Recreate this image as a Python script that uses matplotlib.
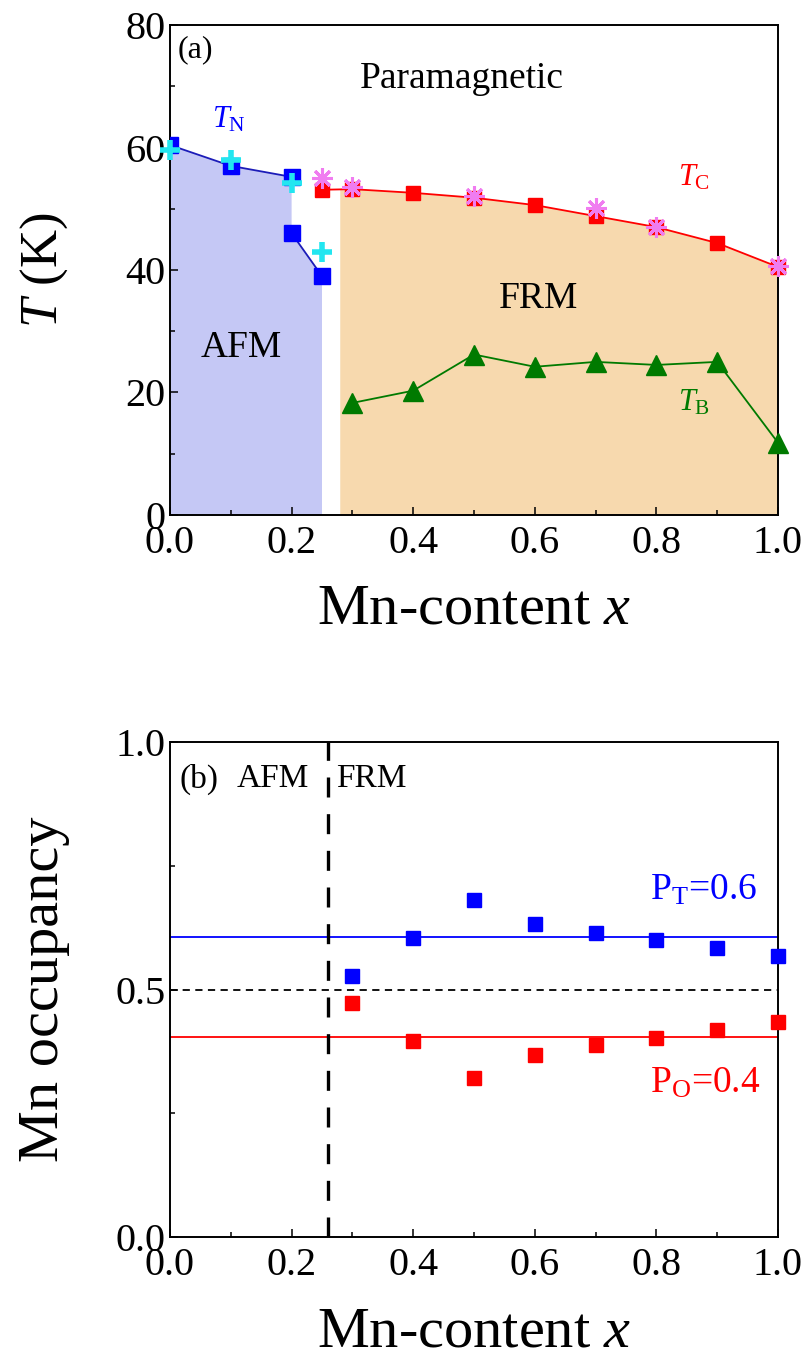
import matplotlib
matplotlib.use('Agg')
import matplotlib.pyplot as plt
from matplotlib.ticker import MultipleLocator
import numpy as np

plt.rcParams['font.family'] = ['Liberation Serif', 'DejaVu Serif']
plt.rcParams['mathtext.fontset'] = 'custom'
plt.rcParams['mathtext.rm'] = 'Liberation Serif'
plt.rcParams['mathtext.it'] = 'Liberation Serif:italic'
plt.rcParams['mathtext.bf'] = 'Liberation Serif:bold'

# ---------------- data ----------------
tn_x = [0.0, 0.1, 0.2, 0.2, 0.25]
tn_sq = [60.4, 57.0, 55.2, 46.0, 39.0]
tn_cross_x = [0.0, 0.1, 0.2, 0.25]
tn_cross = [59.6, 58.0, 54.2, 43.0]
tc_x = [0.25, 0.3, 0.4, 0.5, 0.6, 0.7, 0.8, 0.9, 1.0]
tc_sq = [53.1, 53.2, 52.6, 51.8, 50.6, 48.8, 47.0, 44.4, 40.5]
tc_ast_x = [0.25, 0.3, 0.5, 0.7, 0.8, 1.0]
tc_ast = [55.0, 53.5, 52.0, 50.1, 47.0, 40.6]
tb_x = [0.3, 0.4, 0.5, 0.6, 0.7, 0.8, 0.9, 1.0]
tb = [18.3, 20.3, 26.2, 24.2, 25.0, 24.5, 25.0, 11.8]

occ_x = [0.3, 0.4, 0.5, 0.6, 0.7, 0.8, 0.9, 1.0]
occ_T = [0.528, 0.604, 0.680, 0.633, 0.614, 0.600, 0.583, 0.567]
occ_O = [0.473, 0.396, 0.322, 0.368, 0.387, 0.402, 0.419, 0.434]
p_T = 0.607
p_O = 0.405
x_boundary = 0.26
afm_edge = 0.25
frm_edge = 0.28

xticks = [0.0, 0.2, 0.4, 0.6, 0.8, 1.0]
xticklabels = ['0.0', '0.2', '0.4', '0.6', '0.8', '1.0']
yticks_a = [0, 20, 40, 60, 80]
yticks_b = [0.0, 0.5, 1.0]
yticklabels_b = ['0.0', '0.5', '1.0']

# ---------------- figure ----------------
fig = plt.figure(figsize=(8.06, 13.62), dpi=100)
L, W = 170 / 806, 608 / 806
ax1 = fig.add_axes([L, 1 - 515 / 1362, W, 490 / 1362])
ax2 = fig.add_axes([L, 1 - 1237 / 1362, W, 495 / 1362])

TICK_FS = 29

def style(ax):
    for s in ax.spines.values():
        s.set_linewidth(1.4)
    ax.tick_params(which='both', direction='in', top=False, right=False,
                   width=1.1, labelsize=TICK_FS)
    ax.tick_params(which='major', length=6, pad=7)
    ax.tick_params(which='minor', length=3.3)
    ax.tick_params(axis='y', which='major', pad=3)
    ax.set_xlim(0, 1.0)
    ax.set_xticks(xticks)
    ax.set_xticklabels(xticklabels)
    ax.xaxis.set_minor_locator(MultipleLocator(0.1))

# ---------- panel (a) ----------
style(ax1)
ax1.set_ylim(0, 80)
ax1.set_yticks(yticks_a)
ax1.yaxis.set_minor_locator(MultipleLocator(10))

afm_px = [0.0] + tn_x + [afm_edge, 0.0]
afm_py = [0.0] + tn_sq + [0.0, 0.0]
ax1.fill(afm_px, afm_py, color='#c5c8f5', lw=0, zorder=0)

frm_top = float(np.interp(frm_edge, tc_x, tc_sq))
frm_px = [frm_edge] + tc_x[1:] + [1.0, frm_edge]
frm_py = [frm_top] + tc_sq[1:] + [0.0, 0.0]
ax1.fill(frm_px, frm_py, color='#f7d9ae', lw=0, zorder=0)

ax1.plot(tn_x[:3], tn_sq[:3], color='#1c1cb8', lw=1.3, zorder=2)
ax1.plot(tn_x[3:], tn_sq[3:], color='#1c1cb8', lw=1.3, zorder=2)
ax1.plot(tn_x, tn_sq, ls='none', marker='s', ms=11, color='#0000ff', zorder=3)
ax1.plot(tn_cross_x, tn_cross, ls='none', marker='+', ms=15, mew=4,
         color='#22e6f0', zorder=4, clip_on=False)

ax1.plot(tc_x, tc_sq, color='#ff0000', lw=1.3, zorder=2)
ax1.plot(tc_x, tc_sq, ls='none', marker='s', ms=10.5, color='#ff0000', zorder=3,
         clip_on=False)
ax1.plot(tc_ast_x, tc_ast, ls='none', marker=(8, 2, 0), ms=15, mew=2.2,
         color='#f07cf0', zorder=4, clip_on=False)

ax1.plot(tb_x, tb, color='#007a00', lw=1.3, zorder=2)
ax1.plot(tb_x, tb, ls='none', marker='^', ms=14, color='#007a00', zorder=3,
         clip_on=False)

ax1.text(0.012, 75.9, '(a)', fontsize=23, ha='left', va='center')
ax1.text(0.48, 71.3, 'Paramagnetic', fontsize=27, ha='center', va='center')
ax1.text(0.117, 27.3, 'AFM', fontsize=27, ha='center', va='center')
ax1.text(0.606, 35.3, 'FRM', fontsize=27, ha='center', va='center')
ax1.text(0.069, 64.5, r'$T_{\rm N}$', fontsize=22, color='#0000ff', ha='left', va='center')
ax1.text(0.835, 55.0, r'$T_{\rm C}$', fontsize=22, color='#ff0000', ha='left', va='center')
ax1.text(0.835, 18.3, r'$T_{\rm B}$', fontsize=22, color='#007a00', ha='left', va='center')

ax1.set_xlabel(r'Mn-content $x$', fontsize=42)
ax1.set_ylabel(r'$T$ (K)', fontsize=38)
ax1.xaxis.set_label_coords(0.5, -0.14)
ax1.yaxis.set_label_coords(-0.165, 0.5)

# ---------- panel (b) ----------
style(ax2)
ax2.set_ylim(0, 1.0)
ax2.set_yticks(yticks_b)
ax2.set_yticklabels(yticklabels_b)
ax2.yaxis.set_minor_locator(MultipleLocator(0.25))

ax2.axhline(p_T, color='#0000ff', lw=1.3, zorder=1)
ax2.axhline(p_O, color='#ff0000', lw=1.3, zorder=1)
ax2.axhline(0.5, color='black', lw=1.3, ls=(0, (4, 3)), zorder=1)
ax2.axvline(x_boundary, color='black', lw=2.4, ls=(0, (6, 5)), zorder=2)

ax2.plot(occ_x, occ_T, ls='none', marker='s', ms=9.5, color='#0000ff', zorder=3,
         clip_on=False)
ax2.plot(occ_x, occ_O, ls='none', marker='s', ms=9.5, color='#ff0000', zorder=3,
         clip_on=False)

ax2.text(0.016, 0.925, '(b)', fontsize=24, ha='left', va='center')
ax2.text(0.11, 0.925, 'AFM', fontsize=24, ha='left', va='center')
ax2.text(0.273, 0.925, 'FRM', fontsize=24, ha='left', va='center')
ax2.text(0.79, 0.70, r'P$_{\rm T}$=0.6', fontsize=27, color='#0000ff', ha='left', va='center')
ax2.text(0.79, 0.31, r'P$_{\rm O}$=0.4', fontsize=27, color='#ff0000', ha='left', va='center')

ax2.set_xlabel(r'Mn-content $x$', fontsize=42)
ax2.set_ylabel('Mn occupancy', fontsize=42)
ax2.xaxis.set_label_coords(0.5, -0.14)
ax2.yaxis.set_label_coords(-0.165, 0.5)

fig.savefig('out.png', dpi=100)
